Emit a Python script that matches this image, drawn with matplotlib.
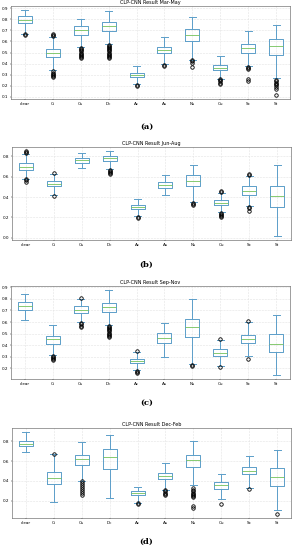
import matplotlib
matplotlib.use("Agg")
import matplotlib.pyplot as plt

labels = ["clear", "Ci", "Cs", "Dc", "Ac", "As", "Ns", "Cu", "Sc", "St"]

# ===== (a) Mar-May =====
# whislo, q1, med, q3, whishi
a_stats = [
    (0.67, 0.765, 0.79, 0.825, 0.88),
    (0.34, 0.46, 0.495, 0.535, 0.64),
    (0.55, 0.66, 0.70, 0.735, 0.80),
    (0.58, 0.695, 0.735, 0.77, 0.875),
    (0.22, 0.28, 0.30, 0.32, 0.38),
    (0.40, 0.495, 0.52, 0.55, 0.635),
    (0.43, 0.60, 0.66, 0.715, 0.82),
    (0.265, 0.34, 0.36, 0.385, 0.465),
    (0.375, 0.50, 0.54, 0.575, 0.69),
    (0.275, 0.48, 0.56, 0.62, 0.745),
]
a_fliers = [
    [0.665, 0.66],
    [0.28, 0.29, 0.30, 0.31, 0.32, 0.33, 0.645, 0.655, 0.665],
    [0.45, 0.46, 0.47, 0.48, 0.49, 0.50, 0.51, 0.52, 0.53, 0.54],
    [0.45, 0.46, 0.47, 0.48, 0.49, 0.50, 0.51, 0.52, 0.53, 0.54, 0.55, 0.56, 0.57],
    [0.20, 0.21],
    [0.38, 0.39],
    [0.37, 0.41, 0.42, 0.43],
    [0.22, 0.23, 0.24, 0.25, 0.26],
    [0.24, 0.26, 0.35, 0.36, 0.37],
    [0.12, 0.17, 0.19, 0.21, 0.22, 0.23, 0.24, 0.25],
]

# ===== (b) Jun-Aug =====
b_stats = [
    (0.58, 0.67, 0.70, 0.735, 0.82),
    (0.42, 0.51, 0.53, 0.56, 0.63),
    (0.69, 0.735, 0.76, 0.78, 0.83),
    (0.675, 0.75, 0.78, 0.805, 0.85),
    (0.21, 0.28, 0.30, 0.325, 0.38),
    (0.42, 0.49, 0.52, 0.545, 0.62),
    (0.35, 0.505, 0.56, 0.615, 0.715),
    (0.25, 0.32, 0.345, 0.375, 0.44),
    (0.31, 0.42, 0.46, 0.505, 0.61),
    (0.02, 0.30, 0.41, 0.505, 0.71),
]
b_fliers = [
    [0.55, 0.565, 0.575, 0.83, 0.84, 0.85],
    [0.415, 0.635],
    [],
    [0.63, 0.64, 0.65, 0.66, 0.67],
    [0.19, 0.20],
    [],
    [0.32, 0.33, 0.34],
    [0.20, 0.21, 0.22, 0.23, 0.24, 0.45, 0.46],
    [0.26, 0.29, 0.30, 0.62, 0.63],
    [],
]

# ===== (c) Sep-Nov =====
c_stats = [
    (0.615, 0.70, 0.735, 0.77, 0.84),
    (0.32, 0.41, 0.45, 0.48, 0.575),
    (0.60, 0.68, 0.705, 0.735, 0.80),
    (0.575, 0.69, 0.73, 0.765, 0.875),
    (0.19, 0.25, 0.265, 0.285, 0.345),
    (0.30, 0.42, 0.465, 0.505, 0.59),
    (0.24, 0.47, 0.56, 0.63, 0.80),
    (0.22, 0.31, 0.335, 0.365, 0.445),
    (0.31, 0.42, 0.455, 0.49, 0.60),
    (0.145, 0.34, 0.415, 0.50, 0.665),
]
c_fliers = [
    [],
    [0.27, 0.28, 0.29, 0.30, 0.31],
    [0.56, 0.57, 0.58, 0.59, 0.81],
    [0.47, 0.48, 0.49, 0.50, 0.51, 0.52, 0.53, 0.54, 0.55, 0.56, 0.57],
    [0.16, 0.17, 0.18, 0.35],
    [],
    [0.22, 0.23],
    [0.21, 0.455],
    [0.28, 0.605],
    [],
]

# ===== (d) Dec-Feb =====
d_stats = [
    (0.69, 0.75, 0.775, 0.80, 0.89),
    (0.19, 0.37, 0.43, 0.49, 0.67),
    (0.40, 0.56, 0.62, 0.665, 0.79),
    (0.225, 0.52, 0.64, 0.72, 0.86),
    (0.18, 0.255, 0.28, 0.30, 0.34),
    (0.31, 0.42, 0.45, 0.48, 0.58),
    (0.36, 0.54, 0.61, 0.665, 0.80),
    (0.22, 0.32, 0.355, 0.385, 0.47),
    (0.33, 0.465, 0.50, 0.545, 0.65),
    (0.105, 0.35, 0.44, 0.535, 0.71),
]
d_fliers = [
    [],
    [0.675],
    [0.26, 0.28, 0.30, 0.32, 0.34, 0.36, 0.38, 0.395],
    [],
    [0.17, 0.175],
    [0.26, 0.27, 0.28, 0.30, 0.31],
    [0.13, 0.15, 0.24, 0.25, 0.26, 0.27, 0.28, 0.30, 0.31, 0.33],
    [0.17],
    [0.32],
    [0.07],
]

titles = ["CLP-CNN Result Mar-May", "CLP-CNN Result Jun-Aug",
          "CLP-CNN Result Sep-Nov", "CLP-CNN Result Dec-Feb"]
panel_tags = ["(a)", "(b)", "(c)", "(d)"]
all_stats = [a_stats, b_stats, c_stats, d_stats]
all_fliers = [a_fliers, b_fliers, c_fliers, d_fliers]

W, H = 293, 550
fig = plt.figure(figsize=(W / 100, H / 100), dpi=100)

# axes boxes in pixels: (left, top, right, bottom), label y
boxes_px = [(11, 6, 290, 99, 127), (12, 147, 291, 240, 265),
            (11, 286, 290, 379, 403), (12, 428, 291, 518, 542)]

box_col = "#5c9ec9"
for k in range(4):
    l, t, r, b, ly = boxes_px[k]
    ax = fig.add_axes([l / W, 1 - b / H, (r - l) / W, (b - t) / H])
    stats = []
    for lab, s, fl in zip(labels, all_stats[k], all_fliers[k]):
        stats.append(dict(label=lab, whislo=s[0], q1=s[1], med=s[2],
                          q3=s[3], whishi=s[4], fliers=fl))
    ax.bxp(stats, widths=0.5, showfliers=True,
           boxprops=dict(color=box_col, lw=0.7),
           whiskerprops=dict(color=box_col, lw=0.7),
           capprops=dict(color=box_col, lw=0.7),
           medianprops=dict(color="#72c25a", lw=0.6),
           flierprops=dict(marker="o", ms=2.5, mfc="none", mec="black", mew=0.6))
    ax.grid(True, color="#e3e3e3", lw=0.4, ls="--")
    ax.set_axisbelow(True)
    ax.tick_params(labelsize=3, length=1, width=0.3, pad=1)
    for sp in ax.spines.values():
        sp.set_linewidth(0.4)
        sp.set_color("#555555")
    ax.set_title(titles[k], fontsize=3.5, pad=1.5)
    fig.text(0.5, 1 - ly / H, panel_tags[k], ha="center", va="center",
             fontsize=6, fontweight="bold", family="DejaVu Serif")

fig.savefig("out.png", dpi=100)
